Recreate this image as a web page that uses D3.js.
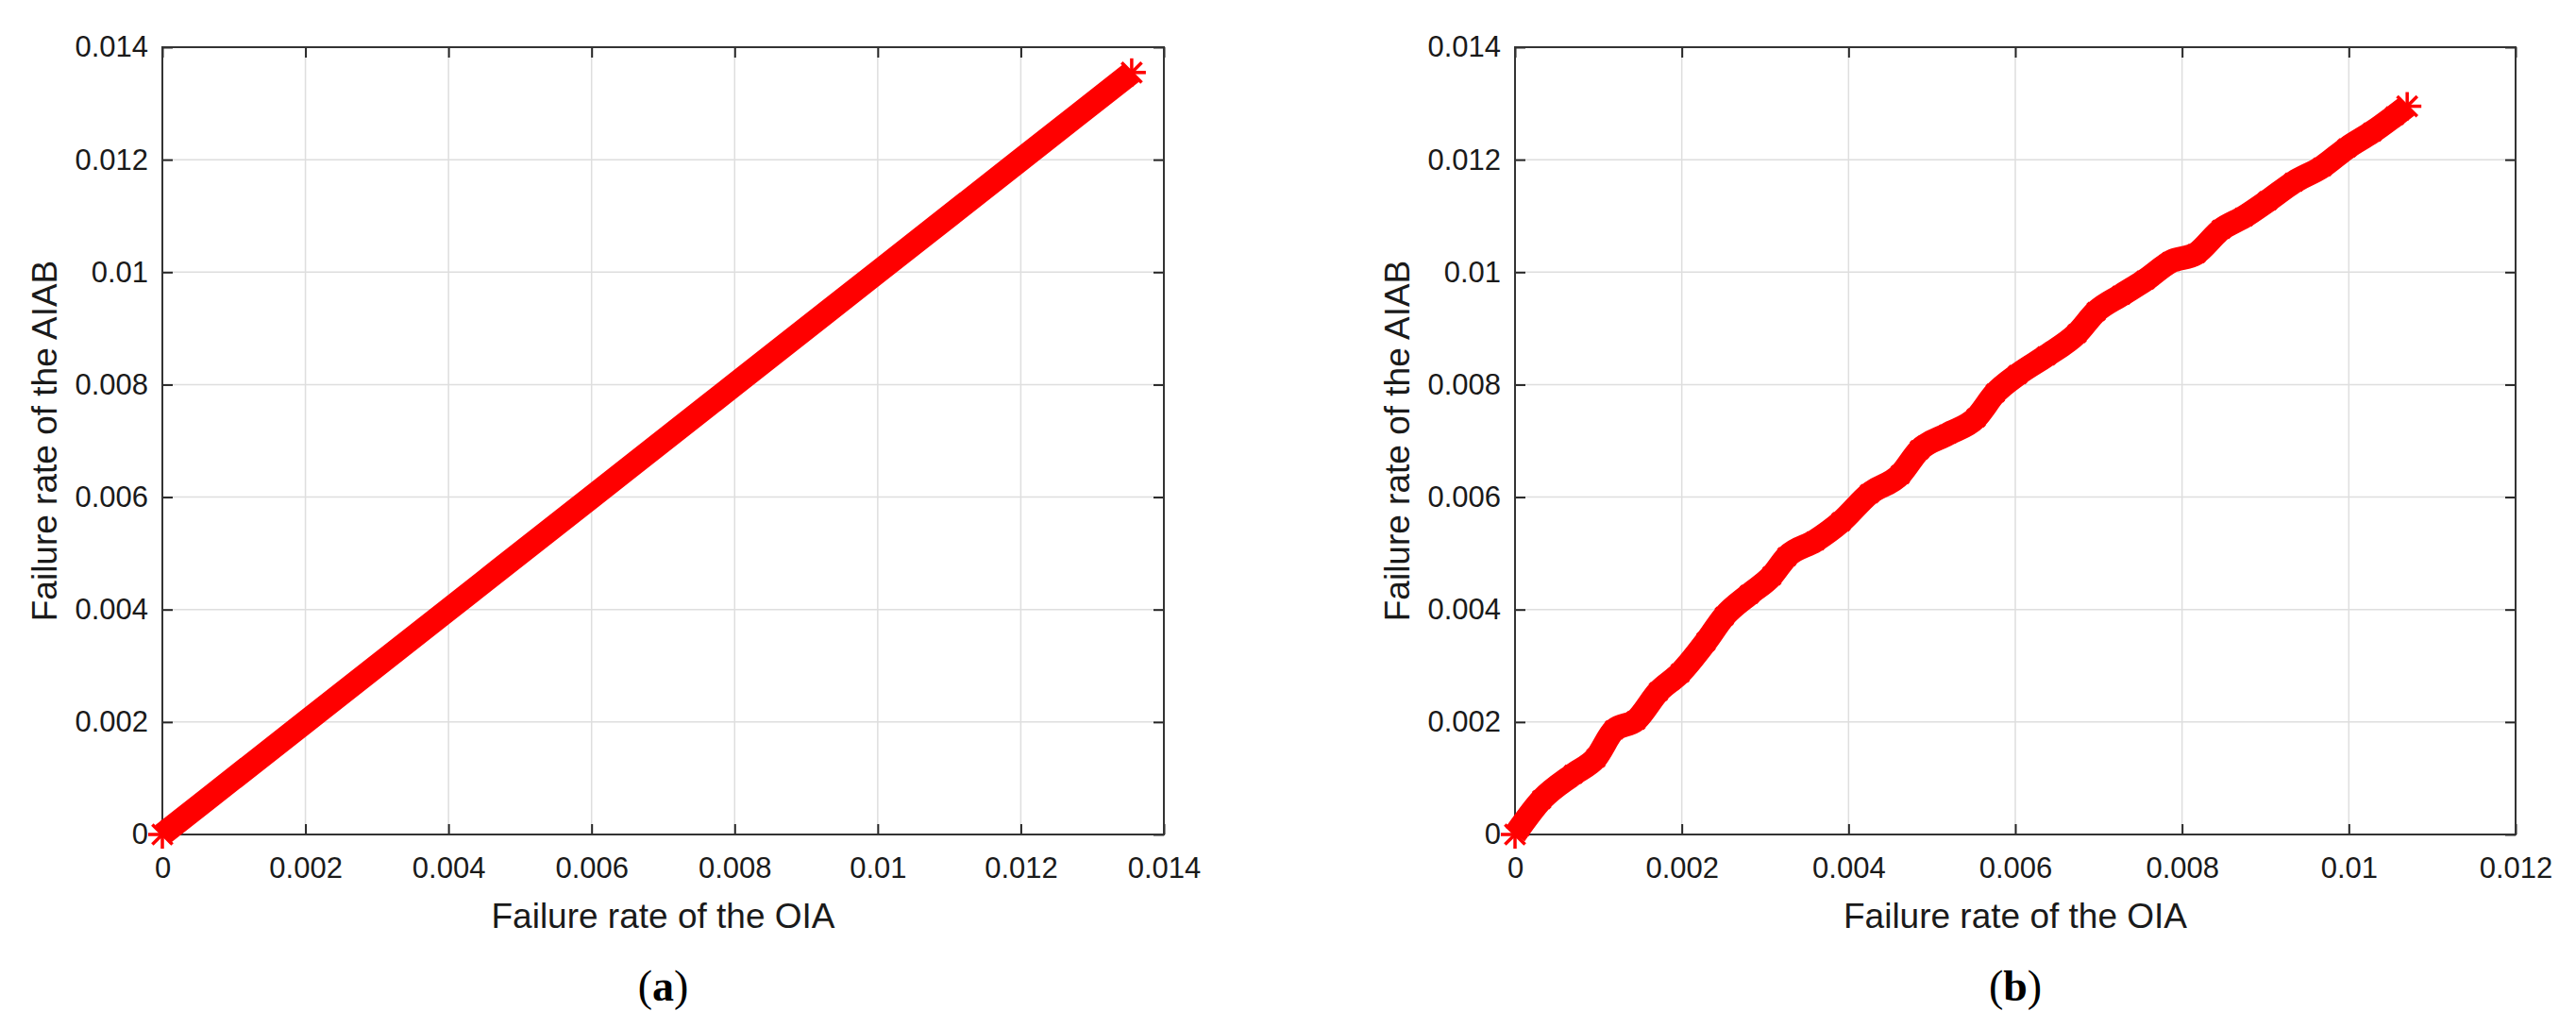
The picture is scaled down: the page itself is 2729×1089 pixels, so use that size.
<!DOCTYPE html>
<html>
<head>
<meta charset="utf-8">
<script src="https://cdn.jsdelivr.net/npm/d3@7"></script>
<style>
  html, body { margin: 0; padding: 0; background: #fff; }
  svg { display: block; }
</style>
</head>
<body>
<svg id="chart" width="2729" height="1089"></svg>
<script>
// ---------- data ----------
const ticksA = [0, 0.002, 0.004, 0.006, 0.008, 0.01, 0.012, 0.014];
const tickLabelsA = ["0", "0.002", "0.004", "0.006", "0.008", "0.01", "0.012", "0.014"];
const xTicksB = [0, 0.002, 0.004, 0.006, 0.008, 0.01, 0.012];
const xTickLabelsB = ["0", "0.002", "0.004", "0.006", "0.008", "0.01", "0.012"];
const yTicksB = [0, 0.002, 0.004, 0.006, 0.008, 0.01, 0.012, 0.014];
const yTickLabelsB = ["0", "0.002", "0.004", "0.006", "0.008", "0.01", "0.012", "0.014"];

// panel (a): failure rate of OIA vs AIAB
const oiaA  = [0, 0.002, 0.004, 0.006, 0.008, 0.010, 0.012, 0.01355];
const aiabA = [0, 0.002, 0.004, 0.006, 0.008, 0.010, 0.012, 0.01355];

// panel (b)
const oiaB = [0, 0.00032, 0.00070, 0.00097, 0.00119, 0.00145, 0.00172, 0.00198, 0.00229, 0.00251,
  0.00281, 0.00308, 0.00326, 0.00360, 0.00391, 0.00425, 0.00462, 0.00485, 0.00519, 0.00553,
  0.00576, 0.00603, 0.00637, 0.00674, 0.00697, 0.00727, 0.00756, 0.00787, 0.00817, 0.00847,
  0.00874, 0.00903, 0.00934, 0.00968, 0.00998, 0.01028, 0.01055, 0.01070];
const aiabB = [0, 0.00062, 0.00107, 0.00136, 0.00186, 0.00203, 0.00254, 0.00287, 0.00343, 0.00388,
  0.00427, 0.00460, 0.00494, 0.00522, 0.00556, 0.00606, 0.00640, 0.00684, 0.00712, 0.00741,
  0.00785, 0.00818, 0.00851, 0.00891, 0.00930, 0.00959, 0.00986, 0.01019, 0.01033, 0.01076,
  0.01098, 0.01127, 0.01160, 0.01187, 0.01221, 0.01249, 0.01278, 0.01295];

const xTitle = "Failure rate of the OIA";
const yTitle = "Failure rate of the AIAB";
const captions = ["a", "b"];

// ---------- drawing ----------
const svg = d3.select("#chart");
const FONT = "'Liberation Sans', Arial, Helvetica, sans-serif";
const AX = "#262626";

function panel(opt) {
  const { left, right, top, bottom, xDomain, yDomain, xTicks, xLabels, yTicks, yLabels, xs, ys, caption, allMarkers } = opt;
  const x = d3.scaleLinear().domain(xDomain).range([left, right]);
  const y = d3.scaleLinear().domain(yDomain).range([bottom, top]);
  const g = svg.append("g");

  // grid
  g.append("g").selectAll("line").data(xTicks.slice(1, -1)).join("line")
    .attr("x1", d => x(d)).attr("x2", d => x(d)).attr("y1", top).attr("y2", bottom)
    .attr("stroke", "#dedede").attr("stroke-width", 1.5);
  g.append("g").selectAll("line").data(yTicks.slice(1, -1)).join("line")
    .attr("y1", d => y(d)).attr("y2", d => y(d)).attr("x1", left).attr("x2", right)
    .attr("stroke", "#dedede").attr("stroke-width", 1.5);

  // axes with inward ticks
  const tl = 11;
  const bx = g.append("g").attr("transform", `translate(0,${bottom})`)
    .call(d3.axisBottom(x).tickValues(xTicks).tickFormat((d, i) => xLabels[i]).tickSizeInner(-tl).tickSizeOuter(0).tickPadding(24));
  const tx = g.append("g").attr("transform", `translate(0,${top})`)
    .call(d3.axisTop(x).tickValues(xTicks).tickFormat("").tickSizeInner(-tl).tickSizeOuter(0));
  const ly = g.append("g").attr("transform", `translate(${left},0)`)
    .call(d3.axisLeft(y).tickValues(yTicks).tickFormat((d, i) => yLabels[i]).tickSizeInner(-tl).tickSizeOuter(0).tickPadding(15));
  const ry = g.append("g").attr("transform", `translate(${right},0)`)
    .call(d3.axisRight(y).tickValues(yTicks).tickFormat("").tickSizeInner(-tl).tickSizeOuter(0));
  [bx, tx, ly, ry].forEach(a => {
    a.select(".domain").remove();
    a.selectAll(".tick line").attr("stroke", AX).attr("stroke-width", 2);
    a.selectAll(".tick text").attr("fill", "#1a1a1a").style("font-family", FONT).style("font-size", "31px");
  });
  bx.selectAll(".tick text").attr("dy", "0.71em");

  // box
  g.append("rect").attr("x", left).attr("y", top).attr("width", right - left).attr("height", bottom - top)
    .attr("fill", "none").attr("stroke", "#333").attr("stroke-width", 2);

  // data band
  const pts = xs.map((v, i) => [v, ys[i]]);
  const line = d3.line().x(d => x(d[0])).y(d => y(d[1])).curve(d3.curveMonotoneX);
  g.append("path").datum(pts).attr("d", line)
    .attr("fill", "none").attr("stroke", "#ff0000").attr("stroke-width", 25)
    .attr("stroke-linejoin", "round").attr("stroke-linecap", "butt");
  // asterisk markers
  const mpts = allMarkers ? pts : [pts[0], pts[pts.length - 1]];
  const mk = g.append("g").selectAll("g").data(mpts).join("g")
    .attr("transform", d => `translate(${x(d[0])},${y(d[1])})`);
  [0, 45, 90, 135].forEach(a => {
    mk.append("line")
      .attr("x1", (d, i) => -Math.cos(a * Math.PI / 180) * ((i === 0 || i === mpts.length - 1) ? 15 : 13))
      .attr("y1", (d, i) => -Math.sin(a * Math.PI / 180) * ((i === 0 || i === mpts.length - 1) ? 15 : 13))
      .attr("x2", (d, i) => Math.cos(a * Math.PI / 180) * ((i === 0 || i === mpts.length - 1) ? 15 : 13))
      .attr("y2", (d, i) => Math.sin(a * Math.PI / 180) * ((i === 0 || i === mpts.length - 1) ? 15 : 13))
      .attr("stroke", "#ff0000").attr("stroke-width", 3.5);
  });

  // axis titles
  g.append("text").attr("x", (left + right) / 2).attr("y", 983).attr("text-anchor", "middle")
    .style("font-family", FONT).style("font-size", "37px").attr("fill", "#1a1a1a").text(xTitle);
  g.append("text").attr("transform", `translate(${left - 112},${(top + bottom) / 2}) rotate(-90)`)
    .attr("text-anchor", "middle")
    .style("font-family", FONT).style("font-size", "37px").attr("fill", "#1a1a1a").text(yTitle);

  // caption
  const cap = g.append("text").attr("x", (left + right) / 2).attr("y", 1060).attr("text-anchor", "middle")
    .style("font-family", "'Liberation Serif', 'Times New Roman', serif").style("font-size", "46px").attr("fill", "#000");
  cap.append("tspan").text("(");
  cap.append("tspan").attr("font-weight", "bold").text(caption);
  cap.append("tspan").text(")");
}

panel({ left: 172, right: 1233, top: 50, bottom: 884, xDomain: [0, 0.014], yDomain: [0, 0.014],
  xTicks: ticksA, xLabels: tickLabelsA, yTicks: ticksA, yLabels: tickLabelsA, xs: oiaA, ys: aiabA, caption: captions[0], allMarkers: false });
panel({ left: 1605, right: 2665, top: 50, bottom: 884, xDomain: [0, 0.012], yDomain: [0, 0.014],
  xTicks: xTicksB, xLabels: xTickLabelsB, yTicks: yTicksB, yLabels: yTickLabelsB, xs: oiaB, ys: aiabB, caption: captions[1], allMarkers: true });
</script>
</body>
</html>
